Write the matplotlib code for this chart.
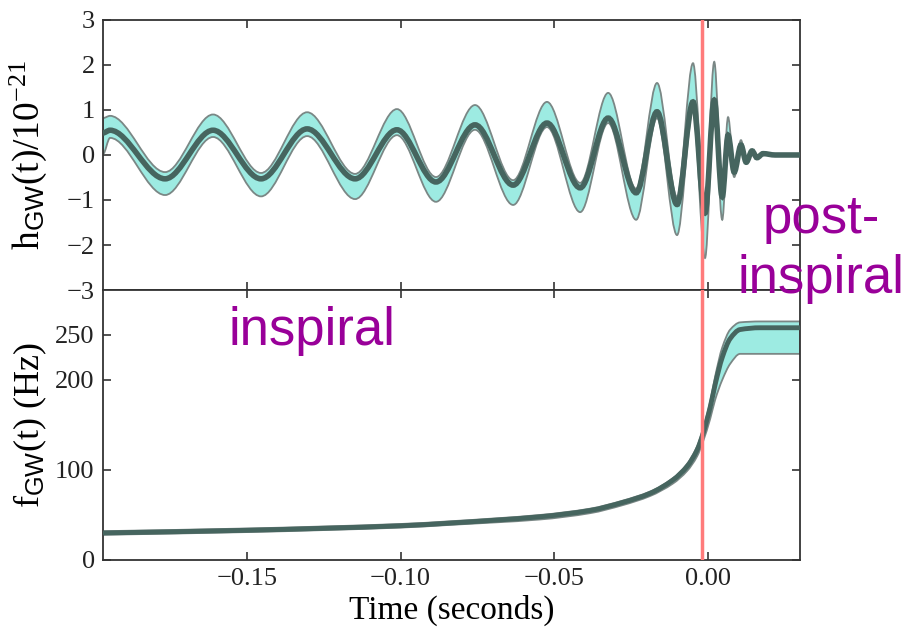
import matplotlib
matplotlib.use("Agg")
import matplotlib.pyplot as plt
from matplotlib.path import Path
from matplotlib.patches import PathPatch
import numpy as np

# waveform extrema (seconds, strain / 1e-21)
wave_t = [-0.1968, -0.1945, -0.1766, -0.1610, -0.1454, -0.1304, -0.1148, -0.1012,
          -0.0885, -0.0758, -0.0634, -0.0524, -0.0416, -0.0325, -0.0234, -0.0166,
          -0.0101, -0.0049, -0.0010, 0.0020, 0.0046, 0.0065, 0.0085, 0.0107,
          0.0124, 0.0143, 0.0159, 0.0179, 0.0218, 0.0299]
wave_h = [0.49, 0.55, -0.53, 0.55, -0.53, 0.58, -0.53, 0.56,
          -0.60, 0.67, -0.67, 0.71, -0.73, 0.82, -0.84, 0.96,
          -1.10, 1.18, -1.29, 1.22, -0.93, 0.44, -0.38, 0.22,
          -0.16, 0.09, -0.06, 0.03, 0.0, 0.0]
wave_hi = [0.82, 0.87, -0.38, 0.90, -0.40, 0.95, -0.42, 1.02,
           -0.49, 1.11, -0.56, 1.18, -0.62, 1.38, -0.75, 1.60,
           -0.93, 2.04, -1.16, 2.07, -0.78, 0.84, -0.30, 0.33,
           -0.12, 0.12, -0.04, 0.04, 0.01, 0.01]
wave_lo = [0.02, 0.38, -0.89, 0.40, -0.92, 0.42, -0.98, 0.44,
           -1.04, 0.56, -1.11, 0.62, -1.27, 0.71, -1.44, 0.82,
           -1.78, 1.00, -2.29, 0.96, -1.44, 0.30, -0.49, 0.15,
           -0.20, 0.06, -0.08, 0.02, -0.01, -0.01]

# frequency track (seconds, Hz)
freq_t = [-0.1968, -0.15, -0.10, -0.0839, -0.0547, -0.0384, -0.0277, -0.0189,
          -0.0114, -0.0068, -0.0036, -0.0016, 0.0007, 0.0023, 0.0046, 0.0072,
          0.0104, 0.0169, 0.0299]
freq_f = [30, 33, 38, 41, 48, 55, 64, 74,
          89, 104, 122, 141, 170, 195, 225, 246,
          256, 258, 258]
freq_hi = [32, 35, 40, 43, 50, 57, 66, 76,
           91, 107, 126, 146, 176, 204, 236, 256,
           264, 265, 265]
freq_lo = [28, 31, 36, 39, 45, 52, 61, 71,
           85, 99, 115, 132, 157, 178, 200, 218,
           229, 229, 229]

t_merger = -0.002
xticks = [-0.15, -0.10, -0.05, 0.00]
h_ticks = [-3, -2, -1, 0, 1, 2, 3]
f_ticks = [0, 100, 200, 250]

plt.rcParams['font.family'] = ['Liberation Serif', 'DejaVu Serif']
plt.rcParams['mathtext.fontset'] = 'custom'
plt.rcParams['mathtext.rm'] = 'Liberation Serif'
plt.rcParams['mathtext.sf'] = 'Liberation Sans'
plt.rcParams['mathtext.it'] = 'Liberation Serif:italic'


def smooth_verts(x, y, flat):
    # cubic bezier control points; flat=True -> horizontal tangents at every point
    x = np.asarray(x, float)
    y = np.asarray(y, float)
    n = len(x)
    if flat:
        m = np.zeros(n)
    else:
        d = np.diff(y) / np.diff(x)
        m = np.zeros(n)
        m[0], m[-1] = d[0], 0.0
        for i in range(1, n - 1):
            if d[i - 1] * d[i] > 0:
                m[i] = 2.0 / (1.0 / d[i - 1] + 1.0 / d[i])
    verts = [(x[0], y[0])]
    for i in range(n - 1):
        dx = x[i + 1] - x[i]
        verts += [(x[i] + dx / 3, y[i] + m[i] * dx / 3),
                  (x[i + 1] - dx / 3, y[i + 1] - m[i + 1] * dx / 3),
                  (x[i + 1], y[i + 1])]
    return verts


def curve(ax, x, y, flat, **kw):
    v = smooth_verts(x, y, flat)
    codes = [Path.MOVETO] + [Path.CURVE4] * (len(v) - 1)
    ax.add_patch(PathPatch(Path(v, codes), fill=False, **kw))


def band(ax, x, lo, hi, flat, **kw):
    up = smooth_verts(x, hi, flat)
    dn = smooth_verts(x, lo, flat)[::-1]
    v = up + dn + [up[0]]
    codes = ([Path.MOVETO] + [Path.CURVE4] * (len(up) - 1) + [Path.LINETO]
             + [Path.CURVE4] * (len(dn) - 1) + [Path.CLOSEPOLY])
    ax.add_patch(PathPatch(Path(v, codes), **kw))


fill_col = '#9debe2'
edge_col = '#7a8785'
line_col = '#46655f'

fig = plt.figure(figsize=(9.05, 6.28), dpi=100)
ax1 = fig.add_axes([0.1138, 0.5382, 0.7702, 0.43])
ax2 = fig.add_axes([0.1138, 0.1083, 0.7702, 0.43], sharex=ax1)

band(ax1, wave_t, wave_lo, wave_hi, True, facecolor=fill_col, edgecolor=edge_col, lw=1.3, zorder=2)
curve(ax1, wave_t, wave_h, True, edgecolor=line_col, lw=4.0, zorder=3)
band(ax2, freq_t, freq_lo, freq_hi, False, facecolor=fill_col, edgecolor=edge_col, lw=1.3, zorder=2)
curve(ax2, freq_t, freq_f, False, edgecolor=line_col, lw=3.5, zorder=3)

for ax in (ax1, ax2):
    ax.axvline(t_merger, color='#ff7b7b', lw=2.5, zorder=4)
    ax.tick_params(direction='in', top=True, right=True, length=6, width=1.1,
                   labelsize=19, colors='#222222', pad=6)
    for s in ax.spines.values():
        s.set_linewidth(1.3)
        s.set_color('#333333')

ax1.set_xlim(-0.1968, 0.0299)
ax1.set_ylim(-3, 3)
ax1.set_yticks(h_ticks)
ax1.set_xticks(xticks)
ax1.tick_params(labelbottom=False)
ax2.set_ylim(0, 300)
ax2.set_yticks(f_ticks)
ax2.set_xticklabels(['\u22120.15', '\u22120.10', '\u22120.05', '0.00'])

ax1.set_ylabel(r'$\mathrm{h}_{\mathsf{GW}}\mathrm{(t)/10^{-21}}$', fontsize=27)
ax2.set_ylabel(r'$\mathrm{f}_{\mathsf{GW}}\mathrm{(t)\ (Hz)}$', fontsize=26)
ax2.set_xlabel('Time (seconds)', fontsize=24, labelpad=3)
ax1.yaxis.set_label_coords(-0.078, 0.5)
ax2.yaxis.set_label_coords(-0.078, 0.5)

purple = '#990099'
fig.text(228 / 905, 1 - 345 / 628, 'inspiral', color=purple, fontsize=38,
         family='Liberation Sans', ha='left', va='baseline')
fig.text(821 / 905, 1 - 233 / 628, 'post-', color=purple, fontsize=38,
         family='Liberation Sans', ha='center', va='baseline')
fig.text(821 / 905, 1 - 293 / 628, 'inspiral', color=purple, fontsize=38,
         family='Liberation Sans', ha='center', va='baseline')

fig.savefig('out.png', dpi=100)
